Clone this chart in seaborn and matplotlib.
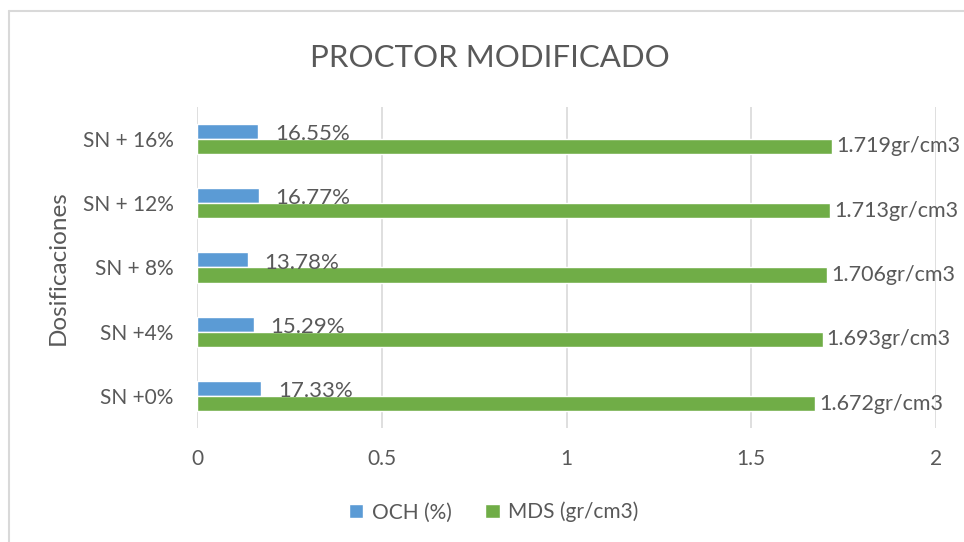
import pandas as pd
import matplotlib.pyplot as plt
import seaborn as sns
from matplotlib.lines import Line2D

# data
dosificaciones = ['SN + 16%', 'SN + 12%', 'SN + 8%', 'SN +4%', 'SN +0%']
och = [0.1655, 0.1677, 0.1378, 0.1529, 0.1733]   # fraction (shown as %)
mds = [1.719, 1.713, 1.706, 1.693, 1.672]
series = ['OCH (%)', 'MDS (gr/cm3)']
xticks = [0, 0.5, 1, 1.5, 2]
xticklabels = ['0', '0.5', '1', '1.5', '2']

df = pd.DataFrame({
    'Dosificacion': dosificaciones * 2,
    'Serie': [series[0]] * len(och) + [series[1]] * len(mds),
    'Valor': och + mds,
})

sns.set_style('white')
plt.rcParams['font.family'] = ['Lato', 'DejaVu Sans']
gray = '#595959'

fig = plt.figure(figsize=(9.64, 5.42), dpi=100)
ax = fig.add_axes([0.2044, 0.21, 0.7666, 0.593])

sns.barplot(data=df, x='Valor', y='Dosificacion', hue='Serie', order=dosificaciones,
            hue_order=series, orient='h', width=0.47, palette=['#5B9BD5', '#70AD47'],
            ax=ax, saturation=1, errorbar=None)

och_txt = ax.bar_label(ax.containers[0], labels=[f'{v*100:.2f}%' for v in och],
                       padding=12, fontsize=16, color=gray)
for t in och_txt:
    t.xyann = (12, -2)  # sit a bit lower, like the original
ax.bar_label(ax.containers[1], labels=[f'{v:.3f}gr/cm3' for v in mds],
             padding=3, fontsize=15.5, color=gray)

ax.set_xlim(0, 2)
ax.set_xticks(xticks)
ax.set_xticklabels(xticklabels)
ax.xaxis.grid(True, color='#D9D9D9', linewidth=1.2)
ax.set_axisbelow(True)
for s in ax.spines.values():
    s.set_visible(False)
ax.tick_params(axis='both', length=0, labelsize=15, colors=gray)
ax.tick_params(axis='x', pad=15)
ax.tick_params(axis='y', pad=17)
ax.set_xlabel('')
ax.set_ylabel('Dosificaciones', fontsize=17.5, color=gray, labelpad=10)

fig.suptitle('PROCTOR MODIFICADO', x=0.508, y=0.918, fontsize=22.5, color=gray)

ax.legend(loc='center', bbox_to_anchor=(0.512, 0.055), bbox_transform=fig.transFigure,
          ncol=2, frameon=False, fontsize=15, labelcolor=gray, handlelength=0.7,
          handleheight=0.7, columnspacing=1.6, handletextpad=0.4)

# light frame on the top and left edges
fig.add_artist(Line2D([0.0095, 0.0095], [0, 0.98], color='#D9D9D9', lw=1.5))
fig.add_artist(Line2D([0.0095, 1], [0.98, 0.98], color='#D9D9D9', lw=1.5))

fig.savefig('out.png', dpi=100)
